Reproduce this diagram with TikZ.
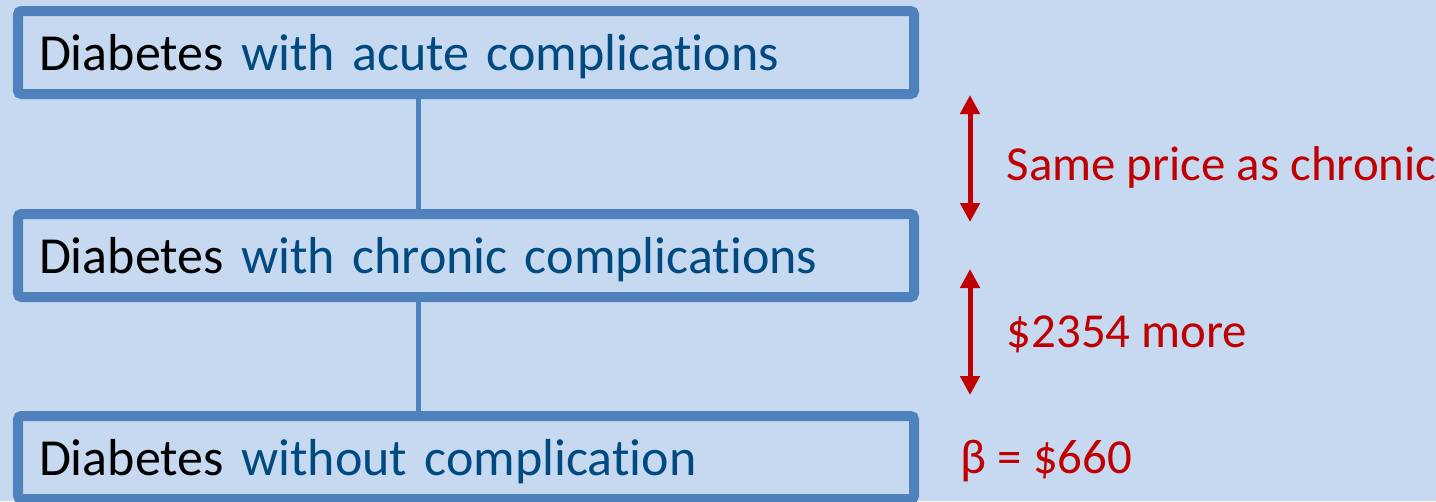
\documentclass[tikz,border=0pt]{standalone}
\usepackage{fontspec}
\setmainfont{Carlito}[Ligatures=NoCommon]
\usetikzlibrary{arrows.meta,positioning}
\definecolor{bgblue}{RGB}{198,217,240}
\definecolor{boxblue}{RGB}{79,129,189}
\definecolor{txtblue}{RGB}{0,74,128}
\definecolor{txtred}{RGB}{192,0,0}

\begin{document}
\begin{tikzpicture}[
  level/.style={draw=boxblue, line width=2.85pt, rounded corners=1pt,
    outer sep=0pt, minimum width=8.96cm, minimum height=0.83cm,
    inner xsep=0.21cm, text width=8.54cm, align=left, anchor=north west,
    text height=0.40cm, text depth=0.05cm,
    font=\fontsize{14.8}{17}\selectfont},
  link/.style={draw=boxblue, line width=1.42pt},
  gap/.style={draw=txtred, line width=1.42pt,
    {Triangle[width=0.19cm,length=0.19cm]}-{Triangle[width=0.19cm,length=0.19cm]}},
  note/.style={text=txtred, anchor=base west, inner sep=0pt,
    font=\fontsize{13.9}{16}\selectfont}]
\useasboundingbox[fill=bgblue] (0,0) rectangle (14.36,-5.01);

% Levels
\node[level] (acute) at (0.18,-0.11) {Diabetes \textcolor{txtblue}{with acute complications}};
\node[level] (chronic) at (0.18,-2.14) {Diabetes \textcolor{txtblue}{with chronic complications}};
\node[level] (none) at (0.18,-4.16) {Diabetes \textcolor{txtblue}{without complication}};

% Links
\draw[link] (acute.south -| 4.18,0) -- (chronic.north -| 4.18,0);
\draw[link] (chronic.south -| 4.18,0) -- (none.north -| 4.18,0);

% Price gaps
\coordinate (g1top) at (9.70,-0.95);
\coordinate (g1bot) at (9.70,-2.22);
\coordinate (g2top) at (9.70,-2.69);
\coordinate (g2bot) at (9.70,-3.95);
\draw[gap] (g1top) -- (g1bot);
\draw[gap] (g2top) -- (g2bot);

\node[note] (same) at (10.06,-1.80) {Same price as chronic};
\node[note] (more) at (10.06,-3.47) {\$2354 more};
\node[note] (beta) at (9.60,-4.73) {β = \$660};
\end{tikzpicture}
\end{document}
